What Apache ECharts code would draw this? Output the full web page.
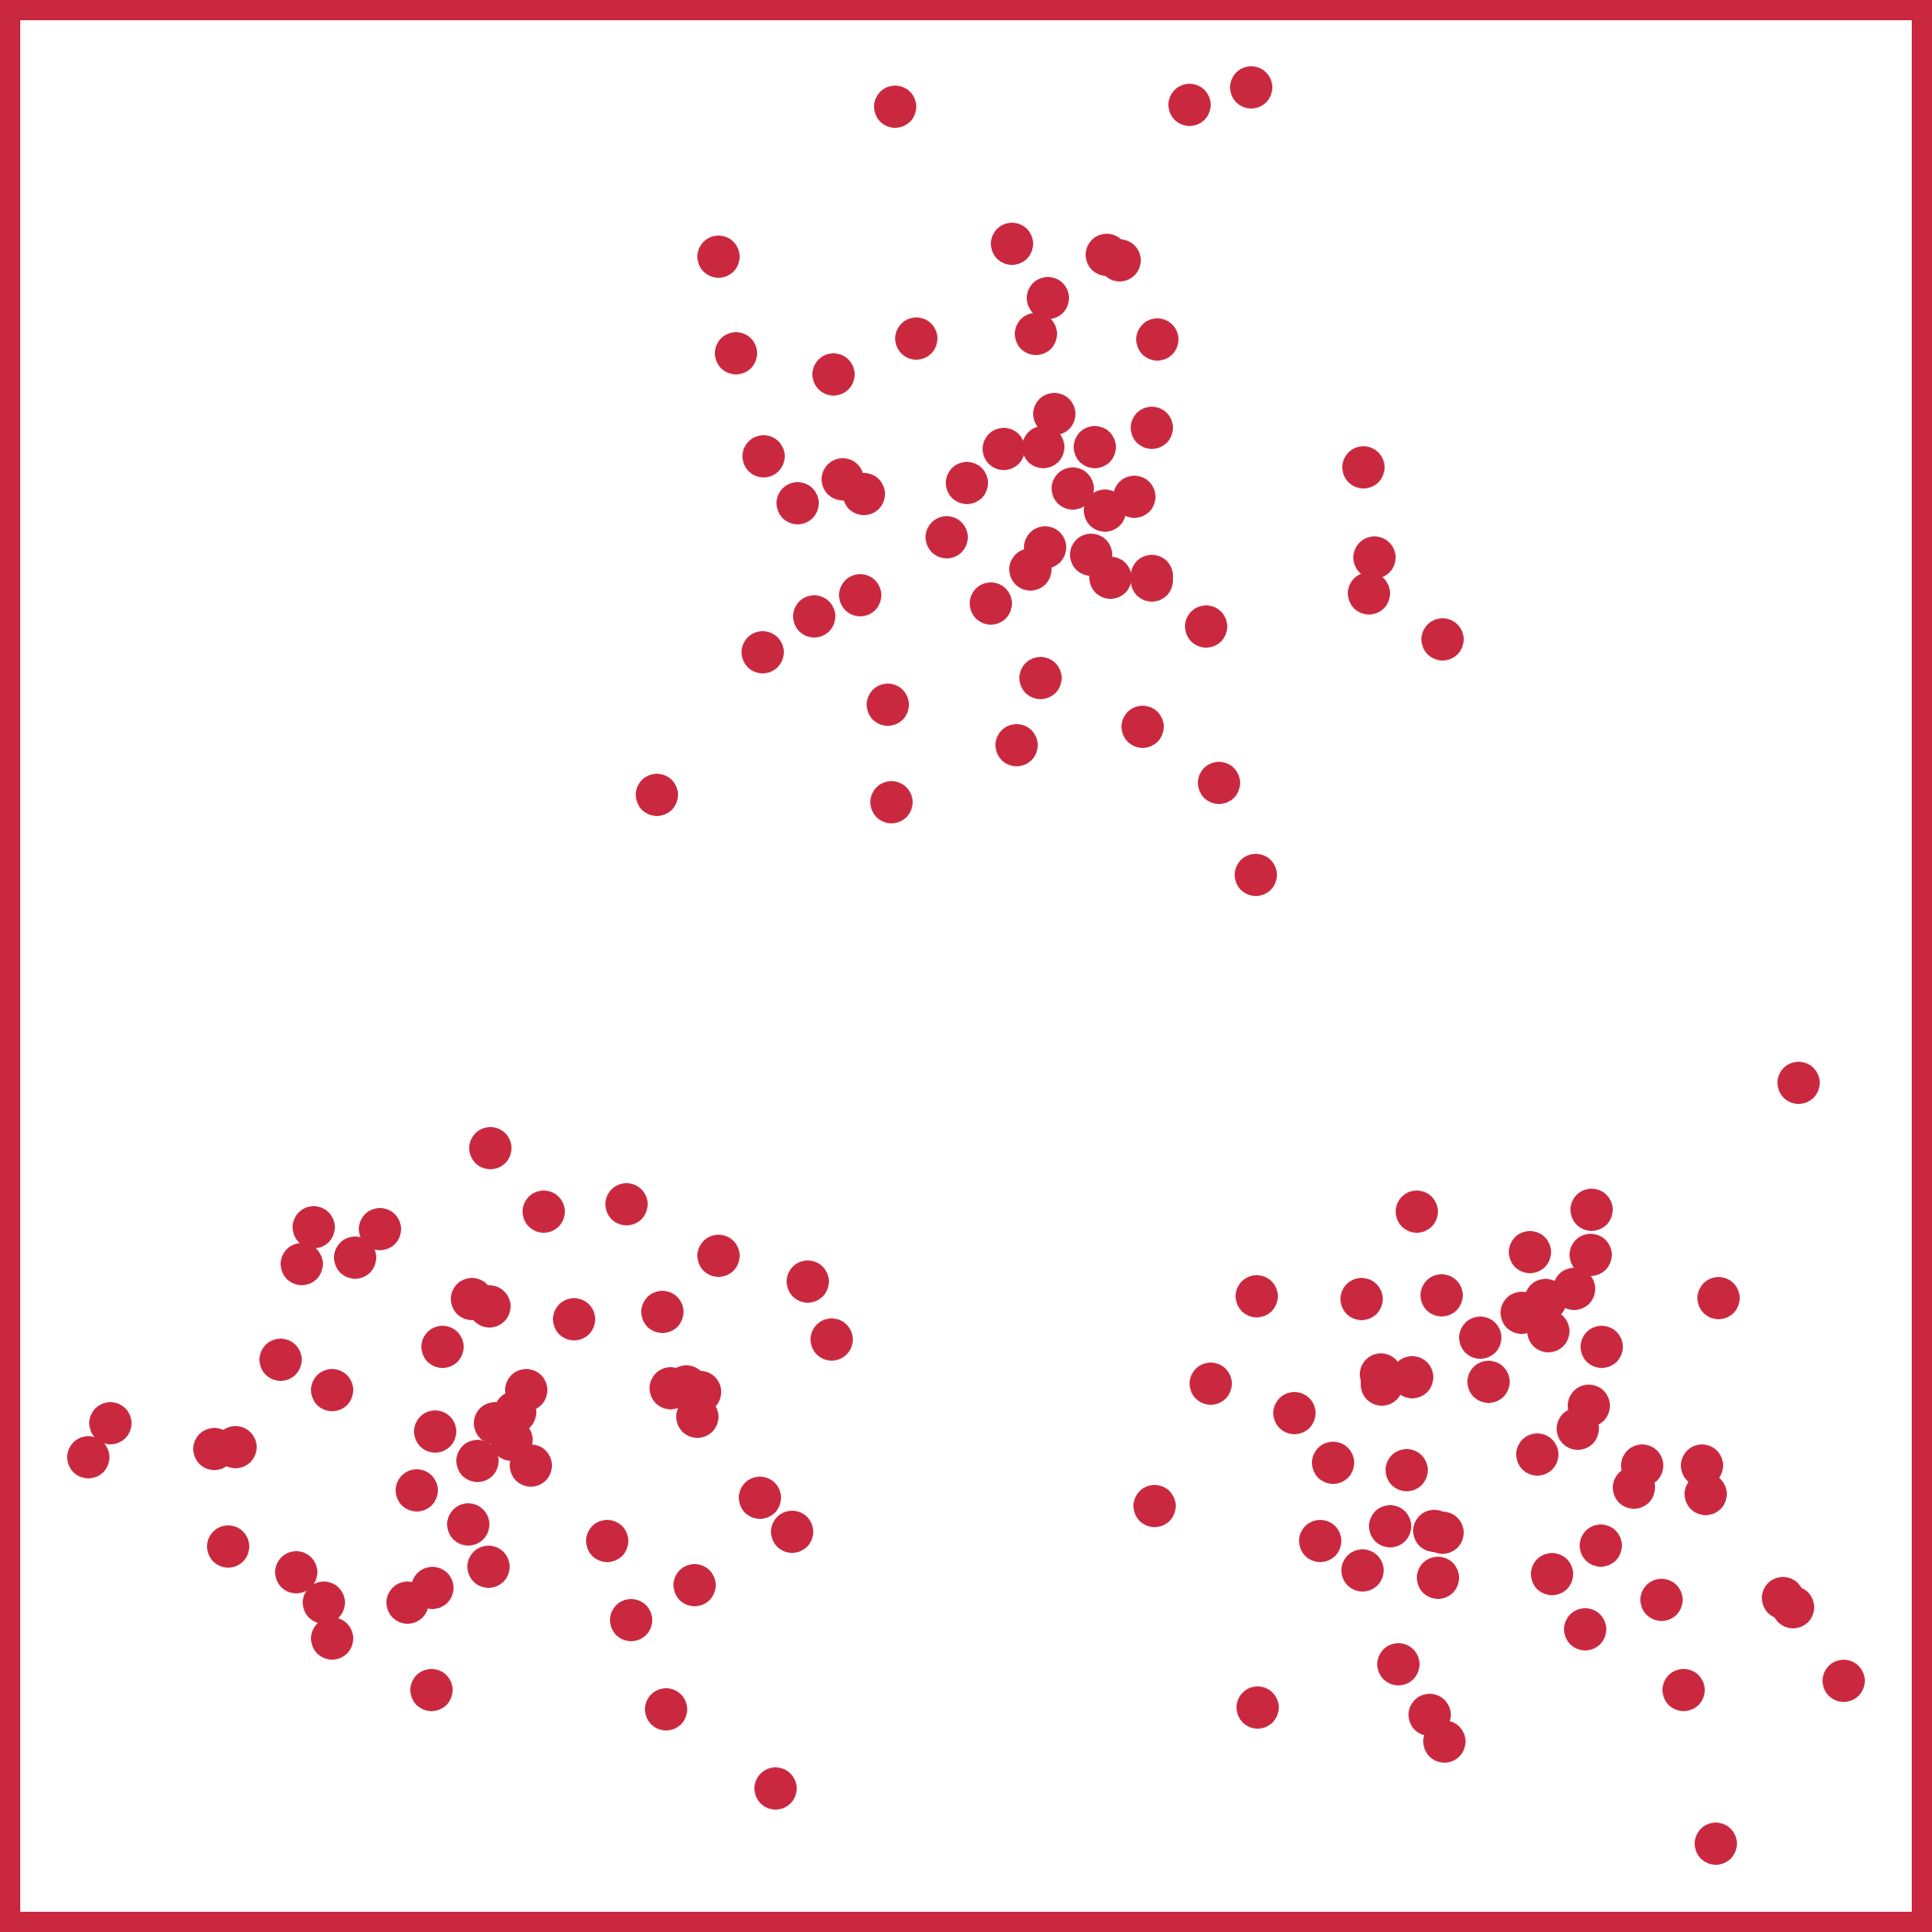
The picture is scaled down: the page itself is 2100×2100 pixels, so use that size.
<!DOCTYPE html>
<html>
<head>
<meta charset="utf-8">
<script src="https://cdn.jsdelivr.net/npm/echarts@6/dist/echarts.min.js"></script>
<style>
  html, body { margin: 0; padding: 0; background: #ffffff; }
  #chart { width: 2100px; height: 2100px; }
</style>
</head>
<body>
<div id="chart"></div>
<script>
// Upper cluster
const upperX = [973, 1293, 1360, 781, 1100, 1203, 1217, 1139, 1126, 800, 906, 996, 1258, 830, 916, 939, 867, 1051, 1091, 1134, 1146, 1190, 1252, 1482, 1166, 1201, 1233, 1029, 1136, 1120, 1186, 1207, 1252, 1252, 1077, 935, 885, 829, 1494, 1488, 1568, 1311, 965, 1131, 1242, 1105, 1325, 714, 969, 1365];
const upperY = [116, 114, 95, 279, 265, 277, 283, 324, 363, 384, 407, 368, 369, 496, 521, 537, 547, 525, 488, 486, 450, 486, 465, 508, 531, 555, 540, 584, 595, 619, 603, 628, 626, 631, 656, 647, 670, 709, 606, 645, 695, 681, 766, 737, 790, 810, 851, 864, 872, 951];

// Lower-left cluster
const lowerLeftX = [533, 341, 413, 328, 386, 591, 681, 781, 878, 904, 513, 532, 624, 720, 481, 305, 361, 120, 96, 233, 256, 473, 572, 560, 538, 556, 519, 577, 729, 746, 761, 758, 453, 509, 531, 470, 443, 248, 322, 352, 361, 469, 660, 686, 755, 724, 826, 861, 843];
const lowerLeftY = [1248, 1334, 1336, 1374, 1367, 1317, 1309, 1365, 1393, 1456, 1412, 1420, 1434, 1426, 1464, 1478, 1511, 1547, 1584, 1575, 1573, 1556, 1511, 1535, 1547, 1565, 1588, 1593, 1509, 1507, 1513, 1540, 1620, 1657, 1703, 1726, 1742, 1681, 1709, 1742, 1781, 1837, 1675, 1761, 1723, 1858, 1628, 1665, 1944];

// Lower-right cluster
const lowerRightX = [1955, 1540, 1730, 1663, 1729, 1711, 1680, 1654, 1683, 1366, 1480, 1567, 1868, 1609, 1741, 1316, 1501, 1502, 1535, 1618, 1407, 1727, 1715, 1671, 1449, 1529, 1255, 1785, 1776, 1850, 1854, 1511, 1435, 1559, 1568, 1481, 1563, 1687, 1740, 1806, 1723, 1938, 1949, 1520, 1367, 1554, 1570, 1830, 2004, 1865];
const lowerRightY = [1177, 1317, 1315, 1361, 1364, 1401, 1413, 1427, 1447, 1409, 1412, 1408, 1411, 1454, 1464, 1504, 1494, 1505, 1497, 1502, 1536, 1528, 1553, 1581, 1590, 1598, 1637, 1593, 1617, 1593, 1624, 1659, 1675, 1664, 1666, 1707, 1715, 1711, 1680, 1739, 1771, 1737, 1747, 1809, 1856, 1864, 1893, 1837, 1827, 2004];

const DOT_COLOR = '#c9283f';

function pairs(xs, ys) {
  return xs.map((x, i) => [x, ys[i]]);
}

const chart = echarts.init(document.getElementById('chart'), null, { renderer: 'canvas' });

function makeSeries(name, xs, ys) {
  return {
    name: name,
    type: 'scatter',
    data: pairs(xs, ys),
    symbol: 'circle',
    symbolSize: 46,
    itemStyle: { color: DOT_COLOR, opacity: 1 },
    emphasis: { disabled: true },
    silent: true,
    animation: false
  };
}

chart.setOption({
  backgroundColor: '#ffffff',
  animation: false,
  grid: { left: 0, right: 0, top: 0, bottom: 0, show: false },
  xAxis: {
    type: 'value', min: 0, max: 2100,
    show: false
  },
  yAxis: {
    type: 'value', min: 0, max: 2100, inverse: true,
    show: false
  },
  graphic: [{
    type: 'rect',
    z: 100,
    silent: true,
    shape: { x: 11, y: 11, width: 2078, height: 2078 },
    style: { fill: 'none', stroke: DOT_COLOR, lineWidth: 22 }
  }],
  series: [
    makeSeries('upper', upperX, upperY),
    makeSeries('lowerLeft', lowerLeftX, lowerLeftY),
    makeSeries('lowerRight', lowerRightX, lowerRightY)
  ]
});
</script>
</body>
</html>
